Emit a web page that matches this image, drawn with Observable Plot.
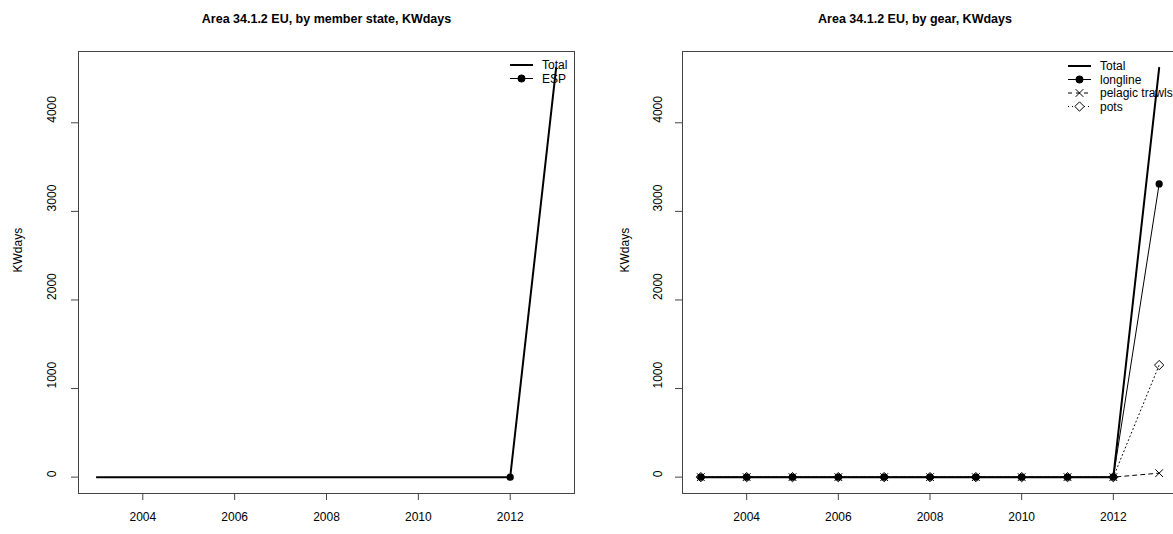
<!DOCTYPE html>
<html>
<head>
<meta charset="utf-8">
<script src="https://cdn.jsdelivr.net/npm/d3@7"></script>
<script src="https://cdn.jsdelivr.net/npm/@observablehq/plot@0.6"></script>
<style>
  body { margin: 0; background: #fff; }
  #wrap { position: relative; width: 1173px; height: 534px; overflow: hidden; background: #fff;
          font-family: "Liberation Sans", Arial, sans-serif; }
  #wrap > svg, #wrap > div { position: absolute; top: 0; }
</style>
</head>
<body>
<div id="wrap"></div>
<script>
// ---- data ----
const years      = [2003, 2004, 2005, 2006, 2007, 2008, 2009, 2010, 2011, 2012, 2013];
const totalKW    = [0, 0, 0, 0, 0, 0, 0, 0, 0, 0, 4620];
const espYears   = [2012];
const espKW      = [0];
const longlineKW = [0, 0, 0, 0, 0, 0, 0, 0, 0, 0, 3310];
const pelagicKW  = [0, 0, 0, 0, 0, 0, 0, 0, 0, 0, 45];
const potsKW     = [0, 0, 0, 0, 0, 0, 0, 0, 0, 0, 1265];
const xTicks = [2004, 2006, 2008, 2010, 2012];
const yTicks = [0, 1000, 2000, 3000, 4000];
const titles = ["Area 34.1.2 EU, by member state, KWdays", "Area 34.1.2 EU, by gear, KWdays"];
const yLabel = "KWdays";
const legendState = ["Total", "ESP"];
const legendGear  = ["Total", "longline", "pelagic trawls", "pots"];

const FONT = '"Liberation Sans", Arial, sans-serif';
const toRows = (xs, vs) => xs.map((x, i) => ({year: x, value: vs[i]}));
const totalRows = toRows(years, totalKW);

const ymax = d3.max(totalKW);
const ydom = [-0.04 * ymax, ymax * 1.04];
const xdom = [2003 - 0.4, 2013 + 0.4];

function panel({width, marginLeft, marginRight, title, titleDx, yTickDx, yLabelDx, extra}) {
  return Plot.plot({
    width, height: 534,
    marginLeft, marginRight, marginTop: 51, marginBottom: 41,
    style: {fontFamily: FONT, fontSize: "12px", background: "transparent", overflow: "visible"},
    x: {domain: xdom},
    y: {domain: ydom},
    marks: [
      Plot.frame({stroke: "#444"}),
      Plot.axisX(xTicks, {tickSize: 7, tickPadding: 12, fontSize: 12, tickFormat: d => String(d), label: null, stroke: "#444"}),
      Plot.axisY(yTicks, {tickSize: 7, tickFormat: () => "", label: null, stroke: "#444"}),
      Plot.text(yTicks, {y: d => d, frameAnchor: "left", dx: yTickDx, rotate: -90, text: d => String(d), fontSize: 12}),
      Plot.text([yLabel], {frameAnchor: "left", dx: yLabelDx, rotate: -90, text: d => d, fontSize: 12}),
      Plot.text([title], {frameAnchor: "top", lineAnchor: "middle", dy: -33, dx: titleDx, text: d => d, fontWeight: "bold", fontSize: 12.5}),
      Plot.line(totalRows, {x: "year", y: "value", stroke: "black", strokeWidth: 2}),
      ...extra
    ]
  });
}

const left = panel({
  width: 586, marginLeft: 78, marginRight: 12,
  title: titles[0], titleDx: 0, yTickDx: -26, yLabelDx: -60,
  extra: [
    Plot.dot(toRows(espYears, espKW), {x: "year", y: "value", r: 3.6, fill: "black"})
  ]
});

const longRows = toRows(years, longlineKW);
const pelRows = toRows(years, pelagicKW);
const potRows = toRows(years, potsKW);
const right = panel({
  width: 603, marginLeft: 96, marginRight: 12,
  title: titles[1], titleDx: -15, yTickDx: -24, yLabelDx: -57,
  extra: [
    Plot.line(longRows, {x: "year", y: "value", stroke: "black", strokeWidth: 1}),
    Plot.line(pelRows, {x: "year", y: "value", stroke: "black", strokeWidth: 1, strokeDasharray: "4,4"}),
    Plot.line(potRows, {x: "year", y: "value", stroke: "black", strokeWidth: 1, strokeDasharray: "1,3"}),
    Plot.dot(longRows, {x: "year", y: "value", r: 3.6, fill: "black"}),
    Plot.dot(pelRows, {x: "year", y: "value", r: 3.6, symbol: "times", stroke: "black", strokeWidth: 1}),
    Plot.dot(potRows, {x: "year", y: "value", r: 4.2, symbol: "diamond2", stroke: "black", strokeWidth: 1, fill: "none"})
  ]
});

const wrap = document.getElementById("wrap");
left.style.left = "0px";
right.style.left = "586px";
wrap.appendChild(left);
wrap.appendChild(right);

// ---- legends ----
const styles = {
  "Total":          {w: 2, dash: null, sym: null},
  "ESP":            {w: 1, dash: null, sym: "circle"},
  "longline":       {w: 1, dash: null, sym: "circle"},
  "pelagic trawls": {w: 1, dash: "4,4", sym: "times"},
  "pots":           {w: 1, dash: "1,3", sym: "diamond2"}
};
const symMap = {circle: d3.symbolCircle, times: d3.symbolTimes, diamond2: d3.symbolDiamond2};

function legend(labels, x0, y0, step) {
  const svg = d3.create("svg").attr("width", 1173).attr("height", 534)
    .style("left", "0px").style("pointer-events", "none");
  labels.forEach((lab, i) => {
    const s = styles[lab];
    const y = y0 + i * step;
    const g = svg.append("g");
    g.append("line").attr("x1", x0).attr("x2", x0 + 23).attr("y1", y).attr("y2", y)
      .attr("stroke", "black").attr("stroke-width", s.w)
      .attr("stroke-dasharray", s.dash);
    if (s.sym) {
      const r = s.sym === "diamond2" ? 4.2 : 3.6;
      const p = d3.symbol(symMap[s.sym], Math.PI * r * r)();
      g.append("path").attr("d", p).attr("transform", `translate(${x0 + 11.5},${y})`)
        .attr("fill", s.sym === "circle" ? "black" : "white")
        .attr("stroke", "black").attr("stroke-width", 1);
    }
    g.append("text").attr("x", x0 + 32).attr("y", y).attr("dy", "0.35em")
      .attr("font-family", FONT).attr("font-size", 12).text(lab);
  });
  return svg.node();
}
wrap.appendChild(legend(legendState, 510, 65, 13.5));
wrap.appendChild(legend(legendGear, 1068, 66, 13.5));
</script>
</body>
</html>
